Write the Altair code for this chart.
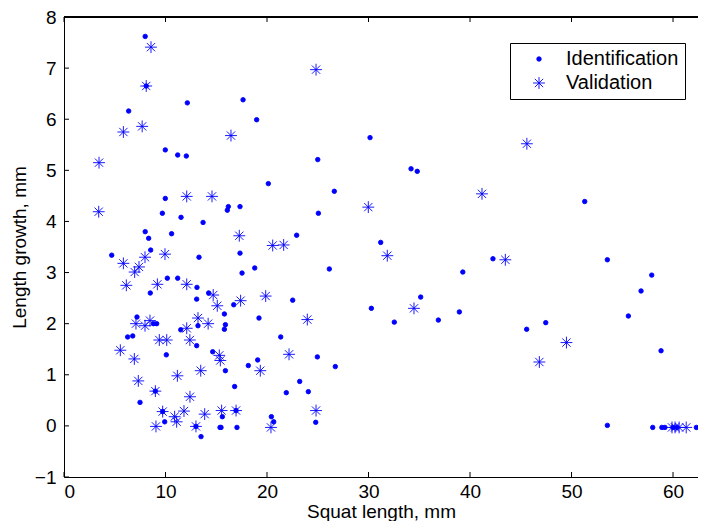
import altair as alt
import pandas as pd

# Identification points (x = squat length mm, y = length growth mm)
ident_x = [8.0, 8.1, 12.15, 6.37, 9.98, 11.2, 12.05,
           9.98, 9.69, 11.53, 13.7, 8.0, 8.34, 10.6, 8.54, 4.7, 13.3, 10.18, 11.2, 13.1, 8.5, 14.25,
           13.07, 7.19, 8.8, 9.13, 13.2, 11.5,
           6.27, 6.77, 13.07, 14.65, 10.08, 9.0, 7.49, 9.72, 9.92, 13.0, 13.5, 15.37,
           17.64, 18.98, 25.0, 20.13, 26.63, 16.19, 16.09, 17.34, 25.06, 22.92, 17.34, 18.79, 17.54,
           26.14, 16.72, 22.53, 15.8, 19.21, 15.9, 15.8,
           21.35, 18.16, 19.08, 24.96, 26.73, 15.9, 16.81, 23.22, 21.9, 24.07, 15.6, 16.95, 15.47,
           17.04, 20.43, 20.66, 24.8,
           30.15, 34.19, 34.8, 31.2, 42.26, 39.29, 35.14, 30.28, 32.54, 36.88, 38.95, 45.58, 51.3,
           53.53, 57.9, 56.85, 55.6, 58.82, 47.46, 53.53, 58.0, 58.9, 59.2, 60.0, 60.4, 62.3]
ident_y = [7.62, 6.65, 6.32, 6.16, 5.40, 5.30, 5.28,
           4.45, 4.16, 4.08, 3.98, 3.80, 3.67, 3.76, 3.44, 3.34, 3.30, 2.89, 2.89, 2.71, 2.60, 2.60,
           2.48, 2.13, 2.0, 2.0, 1.96, 1.88,
           1.74, 1.76, 1.57, 1.45, 1.39, 0.68, 0.46, 0.28, 0.08, -0.01, -0.21, -0.03,
           6.38, 5.99, 5.21, 4.74, 4.59, 4.29, 4.22, 4.29, 4.16, 3.73, 3.38, 3.09, 2.99,
           3.07, 2.37, 2.46, 2.19, 2.11, 1.98, 1.89,
           1.74, 1.18, 1.29, 1.35, 1.16, 1.08, 0.77, 0.87, 0.65, 0.67, 0.18, 0.30, -0.03,
           -0.03, 0.18, 0.08, 0.07,
           5.64, 5.03, 4.98, 3.59, 3.27, 3.01, 2.52, 2.30, 2.03, 2.07, 2.23, 1.89, 4.39,
           3.25, 2.95, 2.64, 2.15, 1.47, 2.02, 0.01, -0.03, -0.03, -0.03, -0.03, -0.03, -0.03]

# Validation points
valid_x = [8.57, 8.1, 7.7, 5.85, 3.45, 3.42, 12.09, 14.58, 9.95, 7.98, 5.85, 7.39, 6.96, 6.14,
           9.2, 12.09, 14.7, 15.1, 7.09, 8.47, 7.98, 13.2, 14.2, 12.09,
           5.55, 9.39, 10.12, 12.4, 15.3, 15.4, 6.93, 13.47, 11.17, 7.32, 9.0, 12.41, 9.72, 10.9,
           11.1, 11.82, 9.06, 13.86, 13.0,
           24.83, 16.45, 17.27, 20.56, 21.64, 17.4, 19.87, 23.97, 19.34, 22.17, 15.53, 16.95,
           20.39, 24.83,
           29.98, 41.18, 45.6, 31.85, 43.48, 34.48, 49.5, 46.83, 59.9, 60.2, 60.6, 61.3, 63.0]
valid_y = [7.41, 6.65, 5.86, 5.75, 5.15, 4.19, 4.49, 4.49, 3.36, 3.30, 3.18, 3.11, 3.01, 2.75,
           2.77, 2.77, 2.56, 2.35, 2.00, 2.06, 1.96, 2.11, 2.0, 1.91,
           1.48, 1.68, 1.68, 1.68, 1.38, 1.28, 1.31, 1.08, 0.98, 0.88, 0.68, 0.57, 0.28, 0.18,
           0.08, 0.29, -0.01, 0.23, -0.01,
           6.97, 5.68, 3.72, 3.53, 3.54, 2.45, 2.54, 2.08, 1.08, 1.40, 0.30, 0.30,
           -0.03, 0.30,
           4.28, 4.54, 5.52, 3.33, 3.25, 2.30, 1.63, 1.25, -0.03, -0.03, -0.03, -0.03, -0.03]

x_ticks = [0, 10, 20, 30, 40, 50, 60]
y_ticks = [-1, 0, 1, 2, 3, 4, 5, 6, 7, 8]
series = ["Identification", "Validation"]

W, H = 634, 460
FONT = "Liberation Sans"
BLUE = "#0000ff"
STAR = "M-1,0L1,0M0,-1L0,1M-0.7,-0.7L0.7,0.7M-0.7,0.7L0.7,-0.7"

df = pd.concat([
    pd.DataFrame({"x": ident_x, "y": ident_y, "set": series[0]}),
    pd.DataFrame({"x": valid_x, "y": valid_y, "set": series[1]}),
])
xt = pd.DataFrame({"t": x_ticks})
yt = pd.DataFrame({"t": y_ticks})

xscale = alt.Scale(domain=[0, 62.46], nice=False, zero=False)
yscale = alt.Scale(domain=[-1, 8], nice=False, zero=False)

points = alt.Chart(df).mark_point(filled=True, opacity=1, strokeWidth=0.9).encode(
    x=alt.X("x:Q", scale=xscale,
            axis=alt.Axis(values=x_ticks, title="Squat length, mm", grid=False, domain=True,
                          domainColor="black", domainWidth=1,
                          tickSize=0, labelPadding=5, labelFontSize=19,
                          titleFontSize=19, titleFontWeight="normal", labelFont=FONT,
                          titleFont=FONT, labelColor="black", titleColor="black",
                          titleBaseline="alphabetic", titleY=40)),
    y=alt.Y("y:Q", scale=yscale,
            axis=alt.Axis(values=y_ticks, title="Length growth, mm", grid=False, domain=True,
                          domainColor="black", domainWidth=1,
                          tickSize=0, labelPadding=8, titlePadding=5, labelFontSize=19,
                          titleFontSize=19, titleFontWeight="normal", labelFont=FONT,
                          titleFont=FONT, labelColor="black", titleColor="black")),
    shape=alt.Shape("set:N", scale=alt.Scale(domain=series, range=["circle", STAR]), title=None),
    fill=alt.Fill("set:N", scale=alt.Scale(domain=series, range=[BLUE, "transparent"]), title=None),
    stroke=alt.Stroke("set:N", scale=alt.Scale(domain=series, range=[BLUE, BLUE]), title=None),
    size=alt.Size("set:N", scale=alt.Scale(domain=series, range=[20, 140]), title=None),
)

tick_style = dict(color="black", strokeWidth=1)
xb = alt.Chart(xt).mark_rule(**tick_style).encode(x=alt.X("t:Q", scale=xscale), y=alt.value(H), y2=alt.value(H - 5))
xtp = alt.Chart(xt).mark_rule(**tick_style).encode(x=alt.X("t:Q", scale=xscale), y=alt.value(0), y2=alt.value(5))
yl = alt.Chart(yt).mark_rule(**tick_style).encode(y=alt.Y("t:Q", scale=yscale), x=alt.value(0), x2=alt.value(5))
top_border = alt.Chart(xt).mark_rule(**tick_style).encode(x=alt.value(0), x2=alt.value(W), y=alt.value(0))

chart = alt.layer(top_border, xb, xtp, yl, points).properties(
    width=W, height=H,
    autosize=alt.AutoSizeParams(type="none"),
    padding={"left": 56, "top": 9, "right": 0, "bottom": 44},
    background="white",
).configure_view(
    stroke=None
).configure_legend(
    orient="none", legendX=446, legendY=26,
    strokeColor="black", strokeWidth=1, fillColor="white",
    padding=6, symbolOffset=13, labelOffset=17, labelFontSize=20, labelFont=FONT,
    labelColor="black", rowPadding=4, cornerRadius=0, symbolStrokeWidth=0.9,
)

chart.save("out.html", embed_options={"renderer": "svg", "actions": False})
